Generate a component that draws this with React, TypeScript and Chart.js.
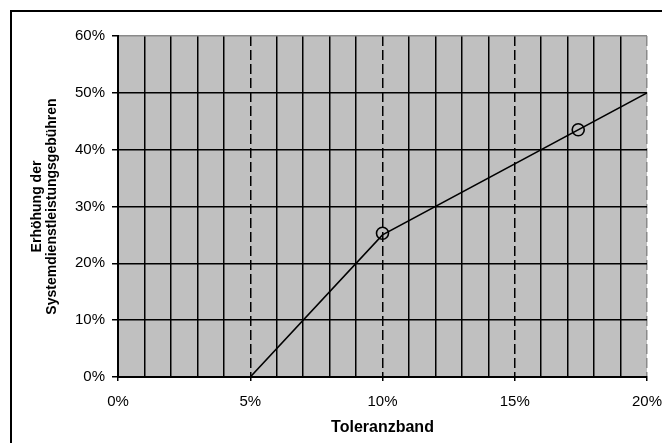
import React, { useEffect, useRef } from "react";
import { Chart, registerables } from "chart.js";

Chart.register(...registerables);

const curveX = [0, 5, 10, 20];
const curveY = [0, 0, 25, 50];
const markerX = [10, 17.4];
const markerY = [25.3, 43.5];
const xTitle = "Toleranzband";
const yTitle = ["Erhöhung der", "Systemdienstleistungsgebühren"];
const FONT = "'Liberation Sans', Arial, sans-serif";

export default function App() {
  const ref = useRef<HTMLCanvasElement>(null);
  useEffect(() => {
    const canvas = ref.current;
    if (!canvas) return;
    const framePlugin = {
      id: "frame",
      beforeDraw(chart: any) {
        const { ctx, chartArea } = chart;
        ctx.save();
        ctx.fillStyle = "#c0c0c0";
        ctx.fillRect(chartArea.left, chartArea.top, chartArea.right - chartArea.left, chartArea.bottom - chartArea.top);
        ctx.strokeStyle = "#000";
        ctx.lineWidth = 2;
        ctx.beginPath();
        ctx.moveTo(11, 443);
        ctx.lineTo(11, 11);
        ctx.lineTo(662, 11);
        ctx.stroke();
        ctx.restore();
      },
    };
    const chart = new Chart(canvas, {
      type: "scatter",
      data: {
        datasets: [
          {
            data: curveX.map((x, i) => ({ x, y: curveY[i] })),
            showLine: true,
            borderColor: "#000",
            borderWidth: 1.6,
            pointRadius: 0,
            fill: false,
          },
          {
            data: markerX.map((x, i) => ({ x, y: markerY[i] })),
            showLine: false,
            borderColor: "#000",
            borderWidth: 1.6,
            backgroundColor: "rgba(0,0,0,0)",
            pointRadius: 6,
            pointStyle: "circle",
          },
        ],
      },
      options: {
        responsive: false,
        animation: false,
        devicePixelRatio: 1,
        layout: { padding: { left: 0, top: 36, right: 16, bottom: 0 } },
        plugins: { legend: { display: false }, tooltip: { enabled: false } },
        scales: {
          x: {
            type: "linear",
            min: 0,
            max: 20,
            afterFit: (s: any) => {
              s.height = 66;
              s.paddingRight = 0;
              s.paddingLeft = 0;
            },
            ticks: {
              stepSize: 1,
              autoSkip: false,
              maxRotation: 0,
              padding: 12,
              color: "#000",
              font: { family: FONT, size: 15 },
              callback: (v: any) => (Number(v) % 5 === 0 ? v + "%" : ""),
            },
            grid: {
              color: (c: any) => (c.tick && c.tick.value === 20 ? "#8a8a8a" : "#000"),
              lineWidth: 1.5,
              tickLength: 4,
              tickColor: (c: any) => (c.tick && c.tick.value % 5 === 0 ? "#000" : "rgba(0,0,0,0)"),
            },
            border: {
              color: "#000",
              width: 2,
              dash: (c: any) => (c.tick && c.tick.value % 5 === 0 && c.tick.value > 0 ? [10, 4] : []),
            },
            title: {
              display: true,
              text: xTitle,
              color: "#000",
              font: { family: FONT, size: 16, weight: "bold" },
              padding: { top: 0, bottom: 6 },
            },
          },
          y: {
            type: "linear",
            min: 0,
            max: 60,
            afterFit: (s: any) => {
              s.width = 118;
            },
            ticks: {
              stepSize: 10,
              padding: 7,
              color: "#000",
              font: { family: FONT, size: 15 },
              callback: (v: any) => v + "%",
            },
            grid: {
              color: (c: any) => (c.tick && c.tick.value === 60 ? "#8a8a8a" : "#000"),
              lineWidth: 1.5,
              tickLength: 6,
              tickColor: "#000",
            },
            border: { color: "#000", width: 2 },
            title: {
              display: true,
              text: yTitle,
              color: "#000",
              font: { family: FONT, size: 14, weight: "bold", lineHeight: 1.1 },
              padding: { top: 29, bottom: 0 },
            },
          },
        },
      },
      plugins: [framePlugin],
    } as any);
    return () => chart.destroy();
  }, []);
  return (
    <div style={{ position: "fixed", left: 0, top: 0, width: 663, height: 443, background: "#fff" }}>
      <canvas ref={ref} width={663} height={443} style={{ display: "block" }} />
    </div>
  );
}
